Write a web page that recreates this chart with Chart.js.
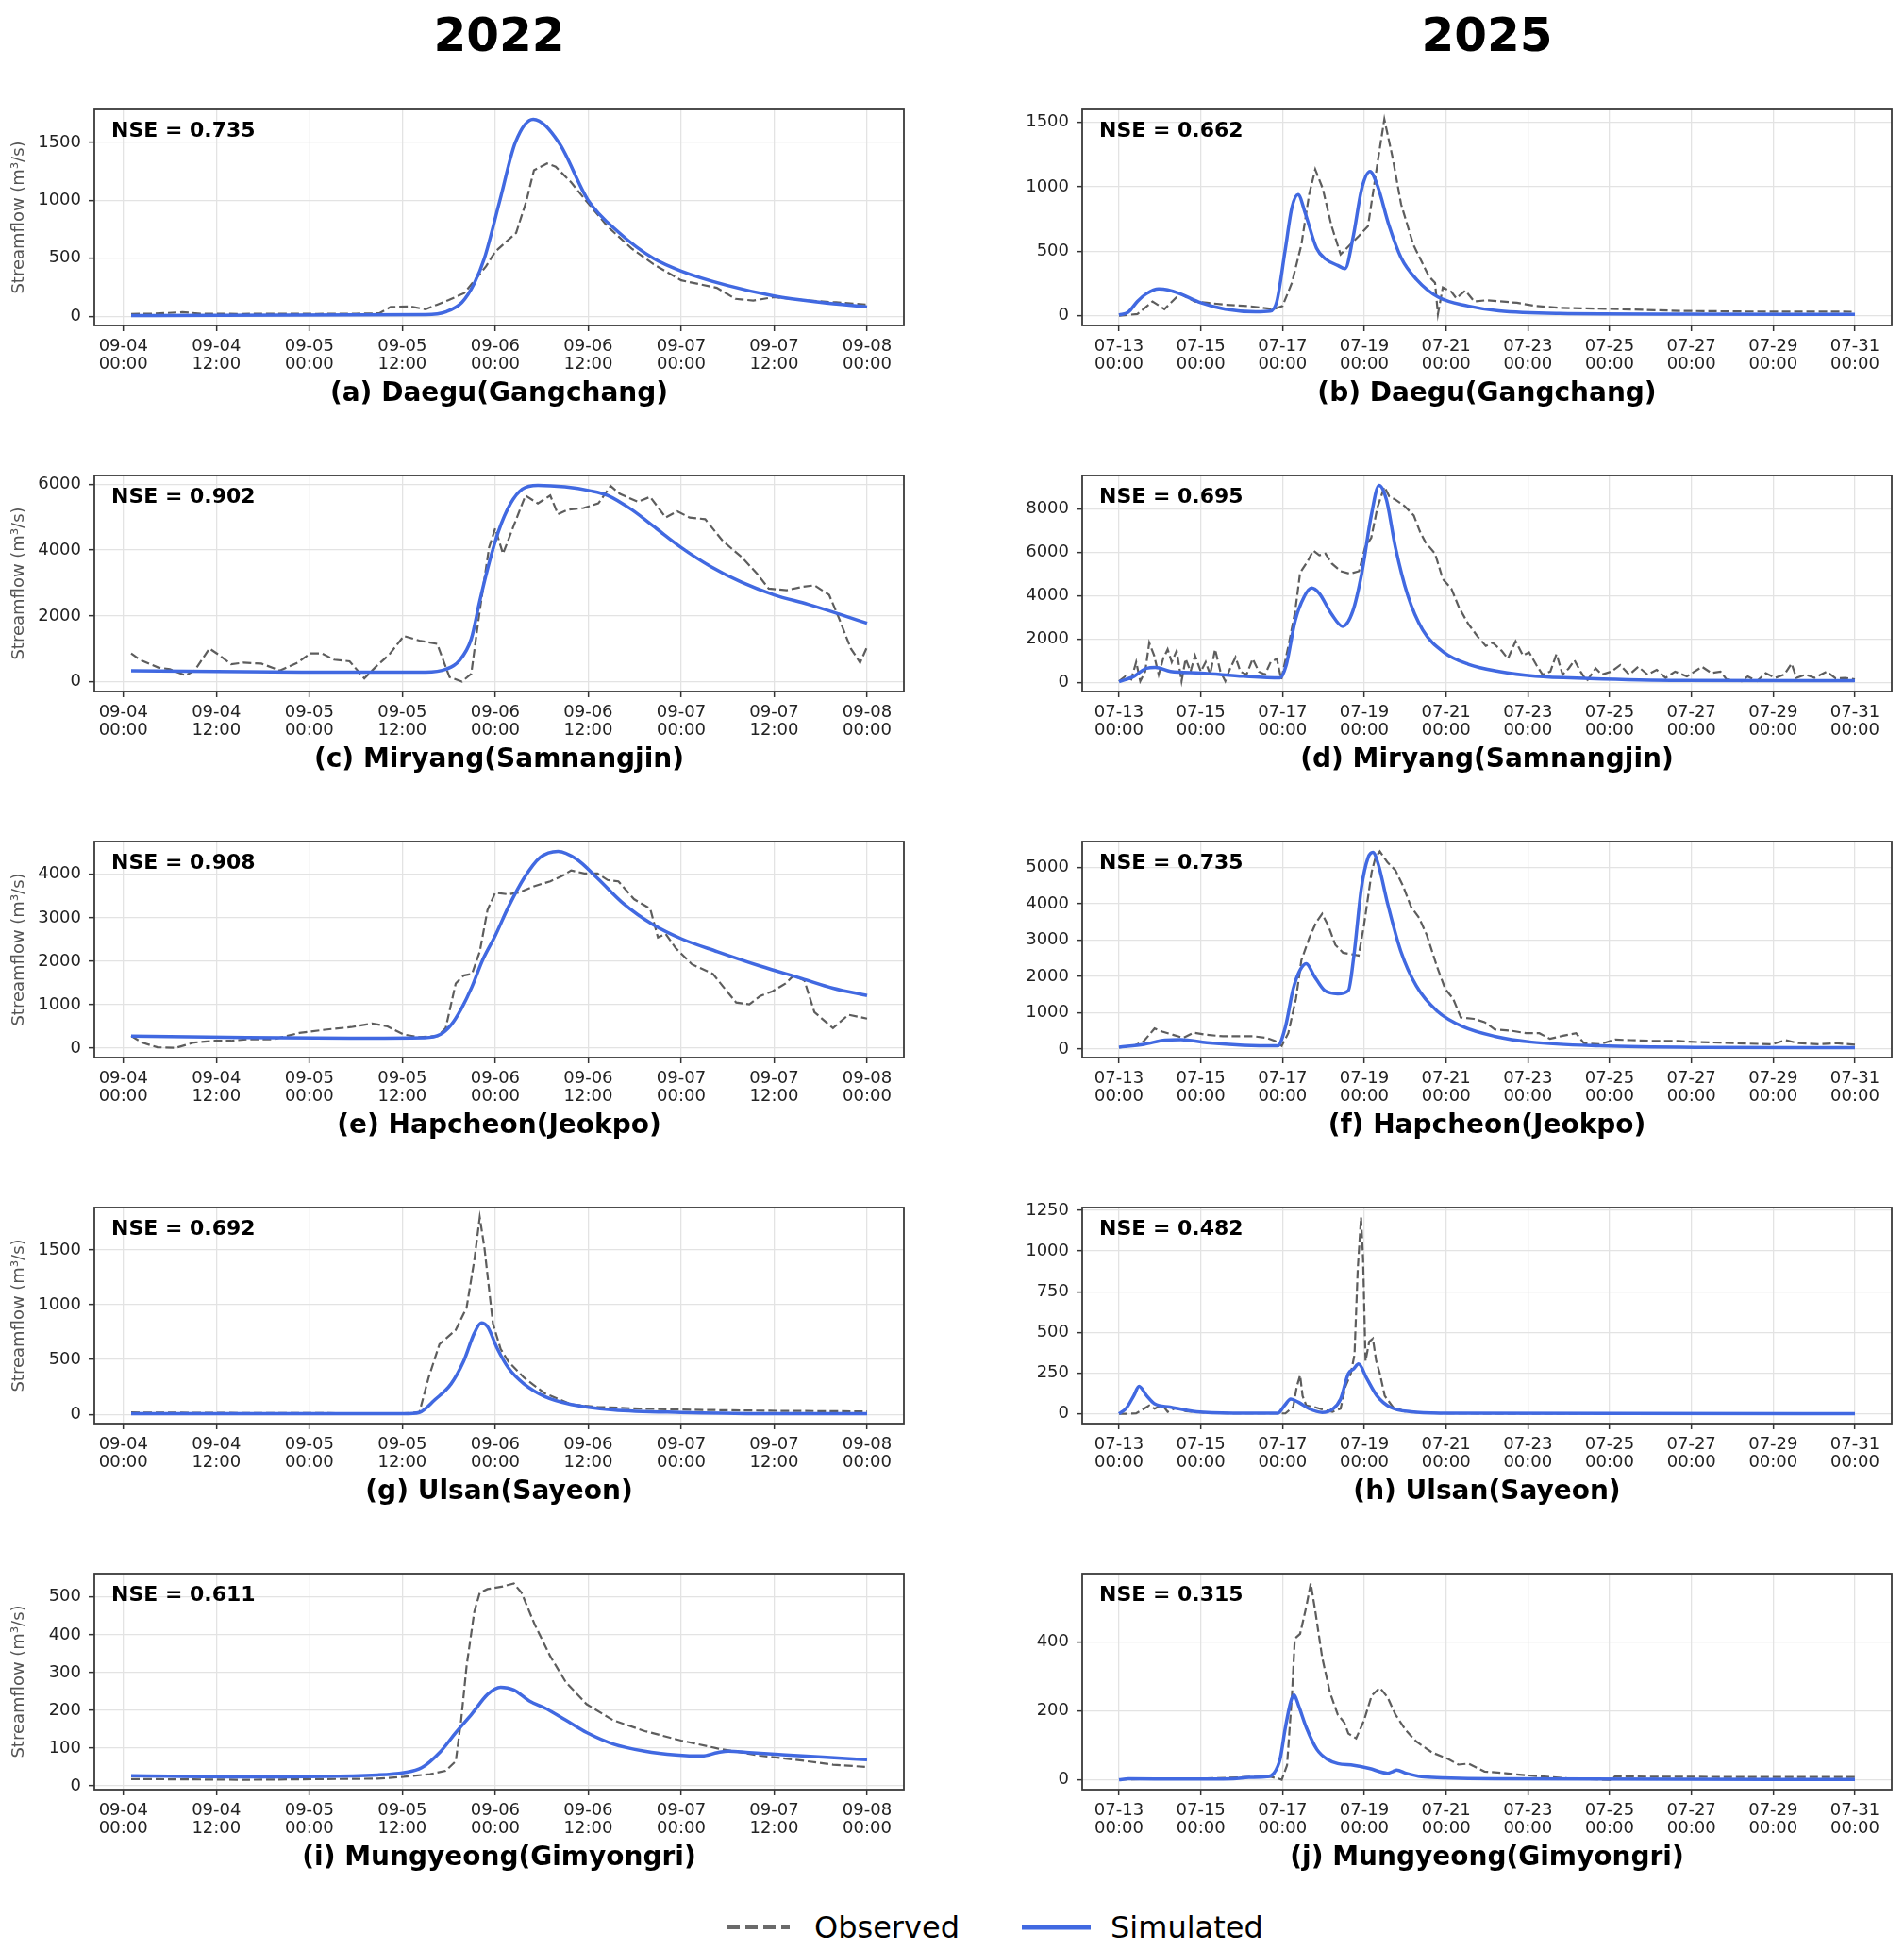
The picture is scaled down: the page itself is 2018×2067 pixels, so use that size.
<!DOCTYPE html>
<html><head><meta charset="utf-8">
<script src="https://cdn.jsdelivr.net/npm/chart.js@4.4.1/dist/chart.umd.min.js"></script>
<style>
html,body{margin:0;padding:0;background:#fff;width:2018px;height:2067px;overflow:hidden;font-family:"DejaVu Sans",sans-serif;position:relative;}
.yr{position:absolute;top:0;height:74px;line-height:74px;font-weight:bold;font-size:50px;text-align:center;color:#000;}
canvas{position:absolute;}
.lg{position:absolute;font-size:32px;line-height:40px;color:#000;top:2023px;}
</style></head><body>
<div class="yr" style="left:100px;width:858px">2022</div>
<div class="yr" style="left:1147px;width:858px">2025</div>
<svg style="position:absolute;left:771px;top:2033px" width="70" height="20"><line x1="0" y1="10" x2="66" y2="10" stroke="#6a6a6a" stroke-width="4" stroke-dasharray="13,6"/></svg>
<div class="lg" style="left:863px">Observed</div>
<svg style="position:absolute;left:1083px;top:2033px" width="76" height="20"><line x1="0" y1="10" x2="73" y2="10" stroke="#4169e1" stroke-width="5"/></svg>
<div class="lg" style="left:1177px">Simulated</div>
<script>
// ---- tick labels ----
const xTicks2022 = [0, 12, 24, 36, 48, 60, 72, 84, 96]; // hours from 09-04 00:00
const xLabels2022 = [['09-04','00:00'],['09-04','12:00'],['09-05','00:00'],['09-05','12:00'],['09-06','00:00'],['09-06','12:00'],['09-07','00:00'],['09-07','12:00'],['09-08','00:00']];
const xTicks2025 = [0, 2, 4, 6, 8, 10, 12, 14, 16, 18]; // days from 07-13 00:00
const xLabels2025 = [['07-13','00:00'],['07-15','00:00'],['07-17','00:00'],['07-19','00:00'],['07-21','00:00'],['07-23','00:00'],['07-25','00:00'],['07-27','00:00'],['07-29','00:00'],['07-31','00:00']];

// ---- (a) Daegu 2022 ----
const a_yTicks = [0, 500, 1000, 1500];
const a_obs_t = [1, 4, 7.6, 10, 15, 20, 25, 30, 33, 34.5, 37, 39, 40.5, 42, 44, 46.8, 48, 50.7, 52, 53, 54.7, 55.8, 57.8, 59.8, 62.5, 65.6, 68.4, 72, 76.6, 79, 81.3, 84, 88.4, 92, 96];
const a_obs_v = [20, 22, 35, 22, 20, 22, 20, 22, 25, 80, 85, 60, 100, 140, 200, 430, 557, 720, 990, 1260, 1318, 1290, 1155, 990, 775, 585, 450, 310, 245, 150, 135, 165, 135, 120, 100];
const a_sim_t = [1, 39, 41.7, 43.7, 45.3, 46.6, 48.6, 50.6, 52.9, 56.2, 60, 64, 68.4, 72, 78, 84, 90, 96];
const a_sim_v = [5, 14, 40, 120, 285, 500, 1000, 1500, 1700, 1500, 1000, 720, 500, 390, 265, 175, 120, 80];

// ---- (b) Daegu 2025 ----
const b_yTicks = [0, 500, 1000, 1500];
const b_obs_t = [0, 0.45, 0.82, 1.11, 1.49, 1.86, 2.15, 2.6, 3.2, 3.79, 4.0, 4.23, 4.46, 4.65, 4.8, 4.98, 5.2, 5.42, 5.65, 5.87, 6.09, 6.32, 6.49, 6.69, 6.9, 7.2, 7.58, 7.73, 7.8, 7.92, 8.13, 8.25, 8.47, 8.69, 9.0, 9.73, 10.2, 10.8, 12.3, 13.7, 15.2, 18];
const b_obs_v = [0, 12, 110, 50, 170, 110, 100, 85, 73, 50, 75, 255, 550, 940, 1135, 990, 695, 475, 550, 620, 695, 1180, 1525, 1230, 865, 550, 305, 255, 12, 220, 185, 135, 195, 110, 120, 100, 75, 60, 50, 37, 32, 30];
const b_sim_t = [0, 0.22, 0.45, 0.67, 0.97, 1.19, 1.49, 2.0, 2.6, 3.34, 3.7, 3.86, 4.06, 4.23, 4.38, 4.56, 4.83, 5.05, 5.35, 5.53, 5.72, 5.94, 6.14, 6.32, 6.61, 6.9, 7.28, 7.8, 8.54, 9.29, 10.77, 13.74, 18];
const b_sim_v = [5, 25, 110, 170, 207, 200, 170, 100, 50, 30, 35, 110, 500, 840, 940, 790, 525, 440, 390, 365, 600, 990, 1120, 1010, 695, 450, 280, 145, 75, 37, 17, 12, 10];

// ---- (c) Miryang 2022 ----
const c_yTicks = [0, 2000, 4000, 6000];
const c_obs_t = [1, 2.1, 4.5, 6, 8, 9.2, 11.1, 12.3, 13.9, 15.5, 17.8, 20.2, 22.5, 24.1, 25.6, 27.2, 29.2, 31.1, 32.7, 34.3, 36.2, 38.2, 40.5, 42.1, 43.7, 44.9, 46, 47.2, 48, 49, 50.4, 51.9, 53.5, 55.1, 56.1, 57.4, 59.4, 61.3, 62.9, 64.1, 66.4, 68, 70, 71.5, 73.1, 75.1, 77.4, 79.8, 81.7, 83.3, 85.6, 87.6, 89.2, 91.1, 92.3, 93.9, 95.1, 96];
const c_obs_v = [860, 670, 430, 380, 190, 340, 1010, 820, 530, 580, 550, 340, 580, 860, 860, 670, 620, 100, 480, 820, 1390, 1250, 1150, 140, 0, 240, 2160, 4080, 4660, 3890, 4750, 5660, 5420, 5660, 5090, 5230, 5280, 5420, 5950, 5710, 5470, 5620, 4990, 5180, 4990, 4940, 4270, 3790, 3310, 2830, 2780, 2880, 2930, 2640, 1970, 1010, 580, 1060];
const c_sim_t = [1, 23, 39, 41.7, 43.3, 44.9, 46, 47.2, 48.4, 50, 51.5, 53.5, 57, 60.2, 62.5, 65.6, 68.8, 72, 75.8, 79.8, 84, 88.4, 92.3, 96];
const c_sim_v = [336, 290, 288, 384, 624, 1296, 2450, 3600, 4560, 5424, 5856, 5971, 5923, 5808, 5664, 5232, 4656, 4080, 3504, 3024, 2640, 2352, 2064, 1776];

// ---- (d) Miryang 2025 ----
const d_yTicks = [0, 2000, 4000, 6000, 8000];
const d_obs_t = [0,0.15,0.3,0.42,0.52,0.64,0.74,0.86,0.97,1.08,1.19,1.29,1.41,1.53,1.63,1.75,1.86,2.0,2.12,2.23,2.35,2.48,2.6,2.72,2.85,2.97,3.12,3.27,3.42,3.57,3.71,3.86,3.97,4.16,4.31,4.43,4.61,4.75,4.9,5.05,5.2,5.42,5.65,5.87,6.02,6.17,6.32,6.49,6.61,6.76,6.98,7.21,7.36,7.5,7.73,7.92,8.13,8.32,8.54,8.77,8.97,9.14,9.36,9.51,9.7,9.88,10.03,10.21,10.36,10.55,10.7,10.85,11.0,11.14,11.29,11.44,11.66,11.81,12.04,12.26,12.48,12.7,12.93,13.15,13.37,13.6,13.89,14.26,14.49,14.71,14.86,15.23,15.38,15.6,15.82,16.05,16.27,16.45,16.57,16.79,17.01,17.31,17.53,17.76,18];
const d_obs_v = [70,290,150,950,70,510,1840,1250,370,1100,1540,950,1470,70,1100,510,1250,510,950,370,1540,510,70,660,1170,510,370,1100,510,370,950,1100,150,1840,3300,5070,5580,6090,5870,5950,5500,5140,5020,5140,6240,6680,8070,9030,8590,8440,8150,7710,6970,6460,5950,4770,4330,3450,2720,2130,1690,1840,1470,1100,1910,1250,1400,810,370,510,1320,370,660,1030,510,70,660,370,510,810,370,730,370,590,220,510,290,730,440,510,150,70,290,70,440,220,370,880,220,370,220,510,190,220,150];
const d_sim_t = [0, 0.37, 0.67, 0.89, 1.26, 2.0, 3.05, 3.94, 4.09, 4.31, 4.53, 4.71, 4.9, 5.2, 5.47, 5.72, 5.94, 6.17, 6.36, 6.54, 6.76, 7.06, 7.43, 7.95, 8.54, 9.29, 10.18, 11.5, 13.74, 18];
const d_sim_v = [44, 294, 660, 705, 514, 440, 294, 220, 807, 2862, 3964, 4360, 4110, 3156, 2598, 3303, 5065, 7707, 9100, 8441, 6239, 4037, 2422, 1395, 851, 514, 294, 191, 103, 88];

// ---- (e) Hapcheon 2022 ----
const e_yTicks = [0, 1000, 2000, 3000, 4000];
const e_obs_t = [1, 2.4, 4.4, 6.8, 9.1, 11.8, 13.9, 15.9, 19.3, 22.7, 26, 29.4, 32.1, 34.1, 36.2, 38.2, 40.6, 41.6, 42.9, 43.9, 45, 46, 47, 48, 49.7, 51, 53.1, 55.1, 56.5, 57.8, 59.5, 61.2, 62.5, 63.9, 65.9, 68, 69, 70, 71.3, 73.4, 76.1, 77.4, 79.1, 80.8, 82.2, 83.8, 85.5, 86.5, 87.9, 89.2, 91.6, 93.6, 96];
const e_obs_v = [280, 130, 20, 10, 130, 170, 170, 205, 205, 350, 425, 485, 570, 500, 315, 255, 280, 460, 1490, 1670, 1710, 2220, 3180, 3580, 3540, 3580, 3730, 3840, 3950, 4090, 4020, 4020, 3870, 3840, 3430, 3210, 2550, 2630, 2300, 1930, 1710, 1420, 1050, 1010, 1200, 1310, 1490, 1670, 1560, 830, 460, 770, 680];
const e_sim_t = [1, 15.9, 29.4, 38.9, 40.9, 42.3, 43.6, 45, 46.3, 48, 49.7, 51.7, 53.8, 56.1, 58.5, 61.2, 64.6, 68.3, 72, 76.7, 82.2, 87.6, 91.6, 96];
const e_sim_v = [280, 245, 230, 240, 315, 535, 900, 1415, 2000, 2590, 3250, 3910, 4390, 4530, 4350, 3910, 3320, 2850, 2520, 2220, 1890, 1600, 1380, 1210];

// ---- (f) Hapcheon 2025 ----
const f_yTicks = [0, 1000, 2000, 3000, 4000, 5000];
const f_obs_t = [0, 0.36, 0.61, 0.87, 1.06, 1.32, 1.57, 1.83, 2.15, 2.54, 2.92, 3.3, 3.62, 3.82, 3.98, 4.14, 4.33, 4.46, 4.65, 4.82, 4.97, 5.12, 5.29, 5.48, 5.67, 5.86, 5.99, 6.18, 6.27, 6.38, 6.57, 6.76, 6.95, 7.14, 7.34, 7.53, 7.78, 7.98, 8.17, 8.36, 8.68, 8.94, 9.19, 9.58, 9.96, 10.28, 10.54, 10.86, 11.18, 11.37, 11.75, 12.14, 12.52, 13.03, 13.67, 14.19, 14.7, 15.34, 15.98, 16.3, 16.62, 17.13, 17.52, 18];
const f_obs_v = [45, 85, 220, 565, 480, 390, 305, 450, 390, 350, 350, 350, 305, 220, 85, 435, 1390, 2440, 3045, 3480, 3720, 3390, 2870, 2650, 2610, 2570, 3390, 4870, 5260, 5440, 5130, 4920, 4480, 3920, 3610, 3130, 2260, 1650, 1390, 870, 830, 740, 540, 505, 435, 435, 280, 365, 435, 160, 130, 260, 245, 225, 220, 190, 175, 150, 130, 245, 160, 130, 160, 120];
const f_sim_t = [0, 0.61, 1.13, 1.51, 2.15, 3.05, 3.88, 4.07, 4.26, 4.43, 4.58, 4.78, 5.03, 5.35, 5.61, 5.74, 5.93, 6.09, 6.21, 6.35, 6.57, 6.89, 7.27, 7.78, 8.42, 9.19, 10.09, 11.75, 14.3, 18];
const f_sim_v = [50, 130, 245, 260, 175, 105, 87, 610, 1650, 2175, 2350, 2000, 1610, 1520, 1610, 2520, 4440, 5260, 5410, 5050, 4000, 2700, 1740, 1045, 610, 350, 190, 87, 44, 35];

// ---- (g) Ulsan 2022 ----
const g_yTicks = [0, 500, 1000, 1500];
const g_obs_t = [1, 15.9, 36.2, 38.2, 39.4, 40.8, 42.9, 44.3, 45.3, 46, 46.6, 47.7, 48.7, 49.7, 51.7, 54.4, 57.8, 61.2, 66.6, 73.4, 83.5, 96];
const g_obs_v = [17, 12, 9, 17, 336, 640, 770, 973, 1407, 1798, 1523, 828, 596, 481, 336, 191, 90, 67, 52, 41, 32, 26];
const g_sim_t = [1, 36.2, 38.2, 40.2, 42.3, 43.9, 45.3, 46.2, 47, 48.3, 49.7, 51.7, 54.4, 57.8, 63.2, 72, 83.5, 96];
const g_sim_v = [5, 5, 17, 133, 278, 481, 741, 834, 800, 596, 423, 278, 162, 90, 41, 17, 6, 5];

// ---- (h) Ulsan 2025 ----
const h_yTicks = [0, 250, 500, 750, 1000, 1250];
const h_obs_t = [0, 0.23, 0.42, 0.74, 0.87, 1.06, 1.19, 1.38, 1.64, 2.02, 2.79, 4.07, 4.26, 4.35, 4.43, 4.49, 4.58, 4.78, 4.97, 5.22, 5.42, 5.54, 5.67, 5.76, 5.84, 5.92, 5.97, 6.03, 6.12, 6.21, 6.29, 6.38, 6.5, 6.7, 7.02, 7.91, 18];
const h_obs_v = [0, 0, 2, 51, 31, 55, 12, 35, 16, 8, 2, 2, 41, 168, 237, 110, 51, 41, 27, 12, 31, 168, 247, 364, 893, 1207, 952, 325, 443, 462, 325, 247, 110, 41, 12, 2, 0];
const h_sim_t = [0, 0.17, 0.36, 0.49, 0.68, 0.87, 1.25, 1.9, 2.79, 3.88, 4.05, 4.2, 4.39, 4.65, 4.97, 5.22, 5.42, 5.61, 5.74, 5.86, 6.06, 6.31, 6.63, 7.14, 7.91, 18];
const h_sim_v = [0, 31, 110, 168, 110, 61, 41, 12, 4, 4, 51, 90, 71, 31, 8, 27, 90, 247, 276, 306, 217, 110, 41, 12, 4, 0];

// ---- (i) Mungyeong 2022 ----
const i_yTicks = [0, 100, 200, 300, 400, 500];
const i_obs_t = [1, 15.9, 32.8, 36.2, 39.6, 41.6, 42.9, 43.6, 44.3, 45.3, 46, 47, 49, 50.4, 51.4, 53.1, 55.1, 57.1, 59.8, 63.2, 67.3, 72, 76.7, 82.2, 87.6, 91.6, 96];
const i_obs_v = [18, 16, 19, 24, 31, 40, 65, 174, 317, 461, 511, 521, 528, 536, 511, 427, 343, 275, 216, 174, 145, 120, 99, 80, 67, 56, 50];
const i_sim_t = [1, 15.9, 32.8, 36.2, 38.5, 40.9, 42.9, 45, 47, 48.7, 50.4, 52.4, 54.4, 57.1, 59.8, 63.2, 67.3, 71.3, 74.7, 76.7, 78.1, 80.8, 85.5, 90.3, 96];
const i_sim_v = [27, 24, 29, 35, 48, 90, 141, 191, 242, 261, 254, 225, 206, 174, 141, 111, 92, 82, 79, 88, 92, 88, 82, 76, 69];

// ---- (j) Mungyeong 2025 ----
const j_yTicks = [0, 200, 400];
const j_obs_t = [0, 2.15, 3.18, 3.69, 3.88, 3.98, 4.11, 4.23, 4.3, 4.43, 4.58, 4.69, 4.81, 4.97, 5.16, 5.35, 5.51, 5.61, 5.8, 5.99, 6.18, 6.38, 6.57, 6.76, 7.02, 7.27, 7.66, 8.04, 8.3, 8.55, 8.94, 9.45, 9.96, 10.47, 11.11, 12.01, 12.14, 13.03, 15.6, 18];
const j_obs_v = [1, 4, 8, 9, 4, 0, 42, 244, 409, 423, 501, 569, 482, 354, 253, 189, 166, 134, 120, 171, 244, 267, 239, 189, 143, 111, 79, 61, 44, 47, 24, 19, 13, 9, 3, 0, 10, 9, 8, 8];
const j_sim_t = [0, 0.23, 1.51, 2.79, 3.18, 3.62, 3.79, 3.94, 4.07, 4.2, 4.28, 4.39, 4.58, 4.84, 5.1, 5.35, 5.74, 6.12, 6.57, 6.7, 6.79, 7.02, 7.4, 7.91, 9.19, 18];
const j_sim_v = [0, 3, 2, 3, 7, 9, 19, 60, 152, 226, 246, 216, 152, 88, 59, 47, 42, 33, 19, 24, 28, 19, 9, 6, 3, 1];

const panels = [
  {title:'(a) Daegu(Gangchang)', nse:'0.735', col:0, row:0, yt:a_yTicks, ot:a_obs_t, ov:a_obs_v, st:a_sim_t, sv:a_sim_v},
  {title:'(b) Daegu(Gangchang)', nse:'0.662', col:1, row:0, yt:b_yTicks, ot:b_obs_t, ov:b_obs_v, st:b_sim_t, sv:b_sim_v},
  {title:'(c) Miryang(Samnangjin)', nse:'0.902', col:0, row:1, yt:c_yTicks, ot:c_obs_t, ov:c_obs_v, st:c_sim_t, sv:c_sim_v},
  {title:'(d) Miryang(Samnangjin)', nse:'0.695', col:1, row:1, yt:d_yTicks, ot:d_obs_t, ov:d_obs_v, st:d_sim_t, sv:d_sim_v},
  {title:'(e) Hapcheon(Jeokpo)', nse:'0.908', col:0, row:2, yt:e_yTicks, ot:e_obs_t, ov:e_obs_v, st:e_sim_t, sv:e_sim_v},
  {title:'(f) Hapcheon(Jeokpo)', nse:'0.735', col:1, row:2, yt:f_yTicks, ot:f_obs_t, ov:f_obs_v, st:f_sim_t, sv:f_sim_v},
  {title:'(g) Ulsan(Sayeon)', nse:'0.692', col:0, row:3, yt:g_yTicks, ot:g_obs_t, ov:g_obs_v, st:g_sim_t, sv:g_sim_v},
  {title:'(h) Ulsan(Sayeon)', nse:'0.482', col:1, row:3, yt:h_yTicks, ot:h_obs_t, ov:h_obs_v, st:h_sim_t, sv:h_sim_v},
  {title:'(i) Mungyeong(Gimyongri)', nse:'0.611', col:0, row:4, yt:i_yTicks, ot:i_obs_t, ov:i_obs_v, st:i_sim_t, sv:i_sim_v},
  {title:'(j) Mungyeong(Gimyongri)', nse:'0.315', col:1, row:4, yt:j_yTicks, ot:j_obs_t, ov:j_obs_v, st:j_sim_t, sv:j_sim_v}
];

const FONT = '"DejaVu Sans", sans-serif';
Chart.defaults.font.family = FONT;
const ROW_TOPS = [116, 504, 892, 1280, 1668];
const COL_LEFTS = [100, 1147];
const PLOT_W = 858, PLOT_H = 229, YAX_W = 100, XAX_H = 90, PAD_TOP = 20, PAD_RIGHT = 10;

const boxPlugin = {
  id: 'boxnse',
  afterDraw(chart, args, opts) {
    const {ctx, chartArea: {left, top, right, bottom}} = chart;
    ctx.save();
    ctx.strokeStyle = '#3a3a3a';
    ctx.lineWidth = 1.8;
    ctx.strokeRect(left, top, right - left, bottom - top);
    ctx.font = 'bold 22px ' + FONT;
    ctx.fillStyle = '#000';
    ctx.textBaseline = 'middle';
    ctx.textAlign = 'left';
    ctx.fillText('NSE = ' + opts.nse, left + 18, top + 23);
    ctx.restore();
  }
};

function pad5(lo, hi) { const r = hi - lo; return [lo - 0.05 * r, hi + 0.05 * r]; }

panels.forEach(p => {
  const is22 = p.col === 0;
  const xt = is22 ? xTicks2022 : xTicks2025;
  const xl = is22 ? xLabels2022 : xLabels2025;
  const allT = p.ot.concat(p.st), allV = p.ov.concat(p.sv);
  const [xmin, xmax] = pad5(Math.min(...allT), Math.max(...allT));
  const [ymin, ymax] = pad5(Math.min(...allV), Math.max(...allV));
  const W = YAX_W + PLOT_W + PAD_RIGHT, H = PAD_TOP + PLOT_H + XAX_H;
  const cv = document.createElement('canvas');
  cv.width = W; cv.height = H;
  cv.style.width = W + 'px'; cv.style.height = H + 'px';
  cv.style.left = (COL_LEFTS[p.col] - YAX_W) + 'px';
  cv.style.top = (ROW_TOPS[p.row] - PAD_TOP) + 'px';
  document.body.appendChild(cv);
  const n1 = Math.min(p.ot.length, p.ov.length), n2 = Math.min(p.st.length, p.sv.length);
  const obs = [], sim = [];
  for (let k = 0; k < n1; k++) obs.push({x: p.ot[k], y: p.ov[k]});
  for (let k = 0; k < n2; k++) sim.push({x: p.st[k], y: p.sv[k]});
  const gridCfg = {color: '#e3e3e3', lineWidth: 1.3, tickLength: 6, tickColor: '#333', tickWidth: 1.5, drawTicks: true};
  new Chart(cv, {
    type: 'line',
    data: {datasets: [
      {label: 'Simulated', data: sim, borderColor: '#4169e1', borderWidth: 3.5, pointRadius: 0, cubicInterpolationMode: 'monotone', fill: false, order: 1},
      {label: 'Observed', data: obs, borderColor: 'rgba(75,75,75,0.9)', borderWidth: 2.2, borderDash: [9, 4], pointRadius: 0, tension: 0, fill: false, order: 2}
    ]},
    options: {
      responsive: false, animation: false, devicePixelRatio: 1,
      layout: {padding: {left: 0, right: PAD_RIGHT, top: PAD_TOP, bottom: 0}},
      plugins: {legend: {display: false}, tooltip: {enabled: false}, boxnse: {nse: p.nse}},
      scales: {
        x: {
          type: 'linear', min: xmin, max: xmax, bounds: 'data',
          afterBuildTicks: s => { s.ticks = xt.map(v => ({value: v})); },
          afterFit: s => { s.height = XAX_H; },
          ticks: {autoSkip: false, maxRotation: 0, minRotation: 0, padding: 6, color: '#222', font: {size: 18, lineHeight: 1.1}, callback: (v, i) => xl[i]},
          grid: gridCfg,
          border: {display: false},
          title: {display: true, text: p.title, color: '#000', font: {size: 28, weight: 'bold', lineHeight: 1.2}, padding: {top: 0, bottom: 0}}
        },
        y: {
          type: 'linear', min: ymin, max: ymax, bounds: 'data',
          afterBuildTicks: s => { s.ticks = p.yt.map(v => ({value: v})); },
          afterFit: s => { s.width = YAX_W; },
          ticks: {padding: 8, color: '#222', font: {size: 18}, callback: v => String(v)},
          grid: gridCfg,
          border: {display: false},
          title: {display: is22, text: 'Streamflow (m³/s)', color: '#555', font: {size: 18, lineHeight: 1.2}, padding: {top: 10, bottom: 0}}
        }
      }
    },
    plugins: [boxPlugin]
  });
});
</script>
</body></html>
